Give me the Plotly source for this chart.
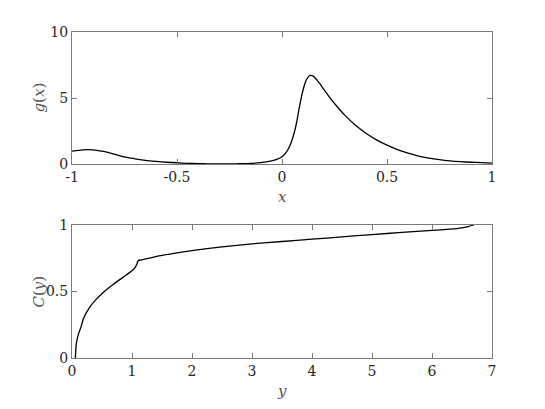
import plotly.graph_objects as go

# g(x) data
gx = [-1.0, -0.95, -0.93, -0.9, -0.85, -0.8, -0.75, -0.7, -0.65, -0.6, -0.55, -0.5,
      -0.45, -0.4, -0.35, -0.3, -0.25, -0.2, -0.15, -0.1, -0.075, -0.05, -0.025, 0.0,
      0.02, 0.04, 0.06, 0.07, 0.08, 0.09, 0.1, 0.11, 0.12, 0.135, 0.15, 0.165, 0.18,
      0.2, 0.225, 0.25, 0.3, 0.35, 0.4, 0.45, 0.5, 0.55, 0.6, 0.65, 0.7, 0.75, 0.8,
      0.85, 0.9, 0.95, 1.0]
gy = [1.0, 1.1, 1.12, 1.1, 0.98, 0.78, 0.56, 0.42, 0.3, 0.22, 0.16, 0.12,
      0.08, 0.05, 0.04, 0.035, 0.035, 0.045, 0.07, 0.13, 0.18, 0.26, 0.38, 0.57,
      0.9, 1.5, 2.5, 3.2, 4.1, 4.9, 5.6, 6.15, 6.5, 6.72, 6.65, 6.4, 6.1,
      5.65, 5.1, 4.6, 3.7, 2.95, 2.35, 1.85, 1.45, 1.12, 0.85, 0.63, 0.47, 0.35, 0.26,
      0.2, 0.16, 0.13, 0.1]

# C(y) data: rising part up to the cusp, then the slow tail
cy_a = [0.056, 0.062, 0.072, 0.09, 0.11, 0.15, 0.19, 0.28, 0.39, 0.53, 0.69, 0.86,
        1.0, 1.05, 1.08, 1.1]
cc_a = [0.0, 0.05, 0.108, 0.15, 0.183, 0.234, 0.296, 0.372, 0.435, 0.497, 0.555, 0.61,
        0.656, 0.68, 0.705, 0.733]
cy_b = [1.1, 1.5, 2.0, 2.5, 3.0, 3.5, 4.0, 4.5, 5.0, 5.5, 6.0, 6.3, 6.5, 6.6, 6.7]
cc_b = [0.733, 0.772, 0.808, 0.836, 0.858, 0.876, 0.893, 0.911, 0.928, 0.944, 0.959,
        0.969, 0.979, 0.988, 1.0]

top_xticks = [-1, -0.5, 0, 0.5, 1]
top_xticktext = ["-1", "-0.5", "0", "0.5", "1"]
top_yticks = [0, 5, 10]
bot_xticks = [0, 1, 2, 3, 4, 5, 6, 7]
bot_yticks = [0, 0.5, 1]
bot_yticktext = ["0", "0.5", "1"]

FONT = "DejaVu Serif"
AXC = "#7a7a7a"
TXT = "#262626"

fig = go.Figure()
fig.add_trace(go.Scatter(x=gx, y=gy, mode="lines", xaxis="x", yaxis="y",
                         line=dict(color="black", width=1.3, shape="spline", smoothing=0.6),
                         showlegend=False))
fig.add_trace(go.Scatter(x=cy_a, y=cc_a, mode="lines", xaxis="x2", yaxis="y2",
                         line=dict(color="black", width=1.3, shape="spline", smoothing=0.5),
                         showlegend=False))
fig.add_trace(go.Scatter(x=cy_b, y=cc_b, mode="lines", xaxis="x2", yaxis="y2",
                         line=dict(color="black", width=1.3, shape="spline", smoothing=0.5),
                         showlegend=False))

axcommon = dict(showline=True, linecolor=AXC, linewidth=1, mirror="ticks",
                ticks="inside", ticklen=5, tickcolor=AXC, tickwidth=1,
                showgrid=False, zeroline=False,
                tickfont=dict(family=FONT, size=14, color=TXT))

# page body adds an 8px offset; margins compensate
L, R, T, B = 63.5, 61, 24, 59
fig.update_layout(
    width=545, height=409,
    margin=dict(l=L, r=R, t=T, b=B),
    paper_bgcolor="white", plot_bgcolor="white",
    font=dict(family=FONT),
    xaxis=dict(domain=[0, 1], anchor="y", range=[-1, 1],
               tickvals=top_xticks, ticktext=top_xticktext, **axcommon),
    yaxis=dict(domain=[0.594, 1], anchor="x", range=[0, 10],
               tickvals=top_yticks, **axcommon),
    xaxis2=dict(domain=[0, 1], anchor="y2", range=[0, 7],
                tickvals=bot_xticks, **axcommon),
    yaxis2=dict(domain=[0, 0.408], anchor="x2", range=[0, 1],
                tickvals=bot_yticks, ticktext=bot_yticktext, **axcommon),
)

plot_w = 545 - L - R
plot_h = 409 - T - B
labfont = dict(family=FONT, size=15, color="#555555")
def px_x(p):
    return (p - 8 - L) / plot_w
def px_y(p):
    return (409 - B - (p - 8)) / plot_h

annots = [
    dict(text="<i>g</i>(<i>x</i>)", x=px_x(38), y=px_y(98), textangle=-90),
    dict(text="<i>x</i>", x=px_x(282), y=px_y(197)),
    dict(text="<i>C</i>(<i>y</i>)", x=px_x(38), y=px_y(292), textangle=-90),
    dict(text="<i>y</i>", x=px_x(282), y=px_y(391)),
]
for a in annots:
    fig.add_annotation(xref="paper", yref="paper", showarrow=False,
                       xanchor="center", yanchor="middle", font=labfont, **a)

fig.write_html("out.html")
